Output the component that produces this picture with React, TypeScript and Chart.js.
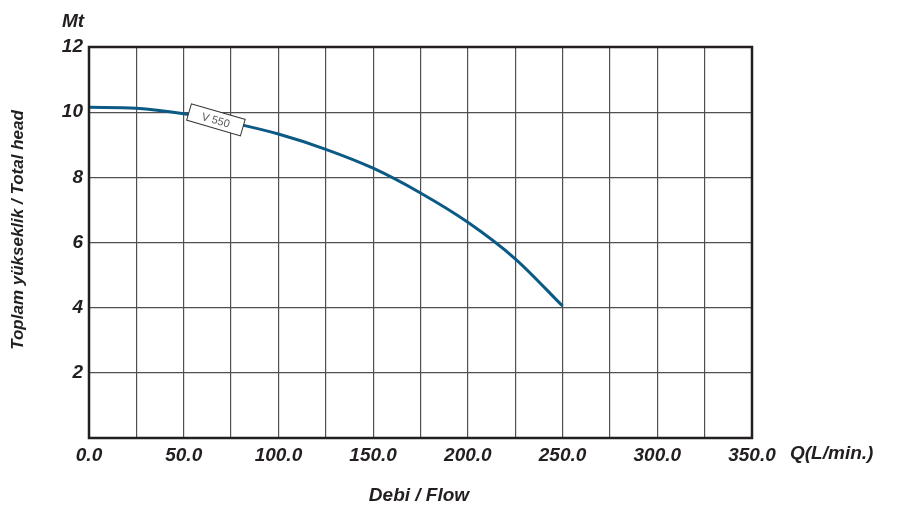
import React, { useEffect, useRef } from "react";
import { Chart, registerables } from "chart.js";

Chart.register(...registerables);

const flowValues = [0, 25, 50, 75, 100, 125, 150, 175, 200, 225, 250];
const headValues = [10.15, 10.12, 9.95, 9.68, 9.33, 8.86, 8.28, 7.52, 6.62, 5.5, 4.05];
const seriesName = "V 550";
const labelAt = 67;
const yTitle = "Toplam yükseklik / Total head";
const xTitle = "Debi / Flow";
const yUnit = "Mt";
const xUnit = "Q(L/min.)";

const FONT = "'Liberation Sans', Arial, sans-serif";

const decorPlugin = {
  id: "decor",
  afterDatasetsDraw(chart: any) {
    const { ctx, chartArea, scales } = chart;
    const xs = scales.x;
    const ys = scales.y;
    ctx.save();
    ctx.strokeStyle = "#231f20";
    ctx.lineWidth = 2.5;
    ctx.strokeRect(chartArea.left, chartArea.top, chartArea.right - chartArea.left, chartArea.bottom - chartArea.top);
    ctx.restore();

    const idx = flowValues.findIndex((v) => v > labelAt);
    const x0 = flowValues[idx - 1], x1 = flowValues[idx];
    const y0 = headValues[idx - 1], y1 = headValues[idx];
    const t = (labelAt - x0) / (x1 - x0);
    const yv = y0 + (y1 - y0) * t;
    const px = xs.getPixelForValue(labelAt);
    const py = ys.getPixelForValue(yv);
    const ang = Math.atan2(ys.getPixelForValue(y1) - ys.getPixelForValue(y0), xs.getPixelForValue(x1) - xs.getPixelForValue(x0)) + 0.1;
    ctx.save();
    ctx.translate(px, py);
    ctx.rotate(ang);
    const w = 56, h = 17;
    ctx.fillStyle = "#ffffff";
    ctx.fillRect(-w / 2, -h / 2, w, h);
    ctx.strokeStyle = "#333";
    ctx.lineWidth = 1;
    ctx.strokeRect(-w / 2, -h / 2, w, h);
    ctx.fillStyle = "#555";
    ctx.font = `11px ${FONT}`;
    ctx.textAlign = "center";
    ctx.textBaseline = "middle";
    ctx.fillText(seriesName, 0, 1);
    ctx.restore();

    ctx.save();
    ctx.fillStyle = "#231f20";
    ctx.font = `italic bold 19px ${FONT}`;
    ctx.textBaseline = "middle";
    ctx.textAlign = "left";
    ctx.fillText(yUnit, 62, 22);
    ctx.fillText(xUnit, 790, 454);
    ctx.textAlign = "center";
    ctx.fillText(xTitle, 419, 496);
    ctx.translate(18, 230);
    ctx.rotate(-Math.PI / 2);
    ctx.font = `italic bold 17px ${FONT}`;
    ctx.fillText(yTitle, 0, 0);
    ctx.restore();
  },
};

export default function App() {
  const ref = useRef<HTMLCanvasElement>(null);
  useEffect(() => {
    document.body.style.margin = "0";
    const chart = new Chart(ref.current!, {
      type: "line",
      data: {
        datasets: [
          {
            label: seriesName,
            data: flowValues.map((x, i) => ({ x, y: headValues[i] })),
            borderColor: "#0b5a85",
            borderWidth: 3,
            pointRadius: 0,
            cubicInterpolationMode: "monotone",
            fill: false,
          },
        ],
      },
      options: {
        animation: false,
        responsive: true,
        maintainAspectRatio: false,
        layout: { padding: { left: 0, right: 171, top: 47, bottom: 0 } },
        plugins: { legend: { display: false }, tooltip: { enabled: false } },
        scales: {
          x: {
            type: "linear",
            min: 0,
            max: 350,
            afterFit: (s: any) => { s.height = 84; },
            ticks: {
              stepSize: 25,
              autoSkip: false,
              maxRotation: 0,
              padding: 6,
              color: "#231f20",
              font: { family: FONT, size: 19, style: "italic", weight: "bold" },
              callback: (v: any) => (Number(v) % 50 === 0 ? Number(v).toFixed(1) : ""),
            },
            grid: { color: "#505050", lineWidth: 1.2, drawTicks: false },
            border: { display: false },
          },
          y: {
            type: "linear",
            min: 0,
            max: 12,
            afterFit: (s: any) => { s.width = 89; },
            ticks: {
              stepSize: 2,
              padding: 6,
              color: "#231f20",
              font: { family: FONT, size: 19, style: "italic", weight: "bold" },
              callback: (v: any) => (Number(v) === 0 ? "" : String(v)),
            },
            grid: { color: "#505050", lineWidth: 1.2, drawTicks: false },
            border: { display: false },
          },
        },
      },
      plugins: [decorPlugin],
    });
    return () => chart.destroy();
  }, []);
  return (
    <div style={{ position: "fixed", left: 0, top: 0, width: 923, height: 522 }}>
      <canvas ref={ref} />
    </div>
  );
}
